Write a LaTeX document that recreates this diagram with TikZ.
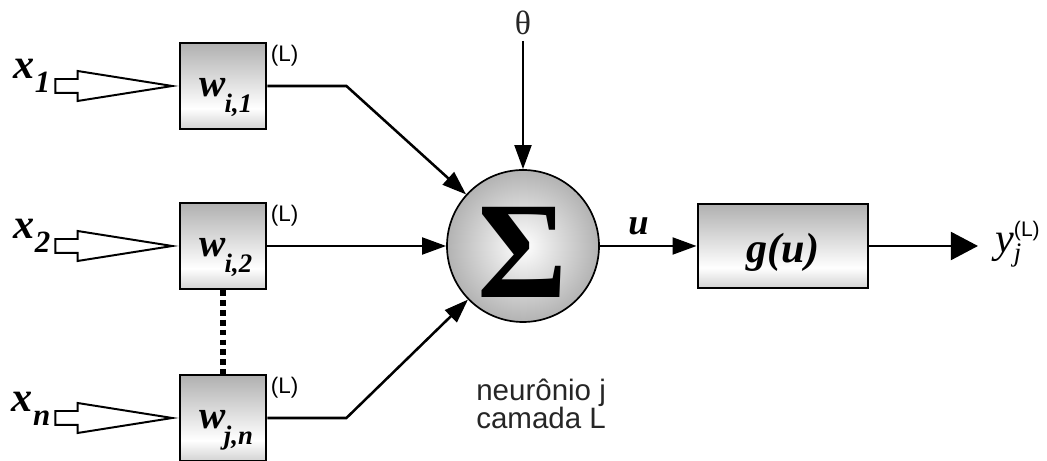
\documentclass[tikz,border=0pt]{standalone}
\usepackage{fontspec}
\setmainfont{Liberation Serif}
\setsansfont{Liberation Sans}
\usetikzlibrary{arrows.meta}
\usetikzlibrary{positioning}
\usetikzlibrary{shapes.arrows}

% grey bar shading for the weight and activation boxes
\pgfdeclareverticalshading{boxshade}{100bp}{color(0bp)=(gray!35); color(25bp)=(gray!35); color(37bp)=(white); color(75bp)=(gray!62); color(100bp)=(gray!62)}

\newcommand{\wsub}[1]{\hspace{-1pt}\raisebox{-0.4em}{\fontsize{19}{19}\selectfont #1}}
\newcommand{\xsub}[1]{\raisebox{-0.33em}{\fontsize{22}{22}\selectfont #1}}

\begin{document}
\begin{tikzpicture}[->,>={Triangle[length=0.6cm,width=0.42cm]},line width=1.8pt,
    wbox/.style={draw,shading=boxshade,line width=2pt,minimum size=2.15cm,inner sep=0pt,
        text height=0.7cm,text depth=0.15cm,font=\fontsize{28}{30}\selectfont\bfseries\itshape},
    inarrow/.style={single arrow,draw,fill=white,line width=1.4pt,anchor=tip,inner sep=0.15cm,
        minimum height=2.925cm,minimum width=0.7cm,single arrow head extend=0.2cm,single arrow tip angle=18},
    sig/.style={anchor=base east,inner sep=2pt,font=\fontsize{30}{32}\selectfont\bfseries\itshape},
    layer/.style={anchor=north west,inner sep=1.5pt,font=\sffamily\fontsize{16}{16}\selectfont}]

    \useasboundingbox (0,0) rectangle (26.175,11.525);

    % Weight boxes
    \node[wbox] (w1) at (5.575,9.375) {\hspace{0.15cm}w\wsub{i,1}};
    \node[wbox] (w2) at (5.575,5.375) {\hspace{0.15cm}w\wsub{i,2}};
    \node[wbox] (wn) at (5.575,1.075) {\hspace{0.15cm}w\wsub{j,n}};
    \node[layer] (L1) at (w1.north east) {(L)};
    \node[layer] (L2) at (w2.north east) {(L)};
    \node[layer] (Ln) at (wn.north east) {(L)};
    \draw[-,line width=4pt,dash pattern=on 4pt off 3pt] (w2.south) -- (wn.north);

    % Inputs
    \node[inarrow] (a1) at (w1.west) {};
    \node[inarrow] (a2) at (w2.west) {};
    \node[inarrow] (an) at (wn.west) {};
    \node[sig] (x1) at ([yshift=0.175cm]a1.tail) {x\xsub{1}};
    \node[sig] (x2) at ([yshift=0.175cm]a2.tail) {x\xsub{2}};
    \node[sig] (xn) at ([yshift=0.15cm]an.tail) {x\xsub{n}};

    % Summing junction and bias
    \node[circle,draw,line width=1.2pt,minimum size=3.8cm,inner sep=0pt,inner color=white,outer color=gray!60,
        text height=2.6cm,text depth=0pt,font=\fontsize{98}{98}\selectfont\bfseries] (soma) at (13.075,5.375) {Σ};
    \node[font=\fontsize{24}{24}\selectfont,text=black!85] (theta) at (13.075,10.95) {θ};
    \node[anchor=north west,inner sep=0pt,align=left,font=\sffamily\fontsize{21}{20}\selectfont,text=black!85]
        (note) at (11.875,2.075) {neurônio j\\camada L};

    % Activation and output
    \node[draw,shading=boxshade,line width=2pt,minimum width=4.25cm,minimum height=2.1cm,inner sep=0pt,
        text height=1cm,text depth=0.15cm,font=\fontsize{30}{32}\selectfont\bfseries\itshape] (g) at (19.575,5.375) {g(u)};
    \node[anchor=base west,inner xsep=0.4cm,inner ysep=0pt,font=\fontsize{30}{32}\selectfont\itshape] (yout) at (24.45,5.2)
        {y\rlap{\raisebox{-0.2em}{\fontsize{19}{19}\selectfont j}}\raisebox{0.4em}{\sffamily\upshape\fontsize{15}{15}\selectfont (L)}};

    % Arrows into the neuron
    \draw (w1.east) -- ++(1.975,0) -- (soma);
    \draw (w2) -- (soma);
    \draw (wn.east) -- ++(1.975,0) -- (soma);
    \draw (theta) -- (soma);
    \draw (soma) -- node[pos=0.4,above,inner sep=0.25cm,font=\fontsize{26}{28}\selectfont\bfseries\itshape] (u) {u} (g);
    \draw[-{Triangle[length=0.68cm,width=0.7cm]}] (g) -- (g -| yout.west);

\end{tikzpicture}
\end{document}
